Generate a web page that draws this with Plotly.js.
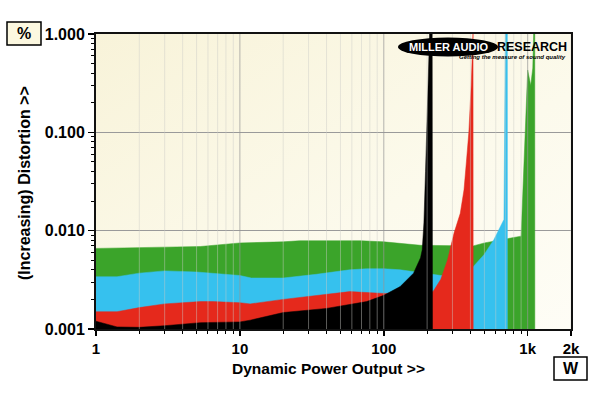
<!DOCTYPE html>
<html>
<head>
<meta charset="utf-8">
<script src="https://cdn.plot.ly/plotly-3.0.1.min.js"></script>
<style>html,body{margin:0;padding:0;background:#fff;}#chart{width:600px;height:393px;}</style>
</head>
<body>
<div id="chart"></div>
<script>
// ---- data (W, %) ----
const greenX = [1, 2, 3, 5.3, 6.5, 10, 20, 26, 69, 100, 180, 292, 418, 500, 640, 724, 900, 1000, 1050, 1085, 1100, 1120, 1121];
const greenY = [0.0066, 0.0068, 0.0068, 0.0069, 0.0071, 0.0075, 0.0077, 0.0079, 0.0079, 0.0077, 0.0071, 0.0070, 0.0070, 0.0075, 0.0080, 0.0082, 0.0088, 0.43, 0.30, 0.45, 1.0, 1.0, 0.001];

const blueX = [1, 1.4, 2, 3, 5, 6.5, 10, 12, 20, 34, 58, 76, 100, 130, 220, 250, 300, 360, 418, 497, 582, 650, 684, 700, 722, 723];
const blueY = [0.0034, 0.0034, 0.0037, 0.0039, 0.0038, 0.0037, 0.0035, 0.0033, 0.0033, 0.0036, 0.0040, 0.0041, 0.0041, 0.0040, 0.0036, 0.0035, 0.0035, 0.0038, 0.0043, 0.0057, 0.0081, 0.011, 0.013, 1.0, 1.0, 0.001];

const redX = [1, 1.4, 2, 3, 5.3, 6.5, 10, 11.8, 20, 34, 58, 100, 130, 160, 200, 220, 249, 277, 308, 340, 361, 375, 390, 405, 412, 417, 418];
const redY = [0.0015, 0.0015, 0.00165, 0.0018, 0.0019, 0.0019, 0.00185, 0.0018, 0.0020, 0.0022, 0.0024, 0.0023, 0.0023, 0.0023, 0.0023, 0.0024, 0.0032, 0.005, 0.0095, 0.015, 0.026, 0.05, 0.1, 0.3, 1.0, 1.0, 0.001];

const blackX = [1, 1.4, 2, 3, 5.3, 6.5, 10, 11.8, 20, 40, 76, 100, 130, 161, 180, 185, 190, 195, 200, 205, 208, 217, 218];
const blackY = [0.0012, 0.00105, 0.00104, 0.00108, 0.00116, 0.00116, 0.00118, 0.00123, 0.00147, 0.00162, 0.0019, 0.0022, 0.0027, 0.0037, 0.0053, 0.0064, 0.012, 0.04, 0.13, 0.45, 1.0, 1.0, 0.001];

const xTickVals = [1, 10, 100, 1000, 2000];
const xTickText = ['1', '10', '100', '1k', '2k'];
const yTickVals = [0.001, 0.01, 0.1, 1];
const yTickText = ['0.001', '0.010', '0.100', '1.000'];

const seriesColors = {green: '#3BA42A', blue: '#36C1EE', red: '#E5291C', black: '#000000'};

// ---- helpers ----
const W = 600, H = 393, ML = 96, MR = 29, MT = 34, MB = 64;
const PW = W - ML - MR, PH = H - MT - MB;
const px = x => (x - ML) / PW;
const py = y => (H - MB - y) / PH;

// minor & major vertical grid values (from axis decades)
const minorX = [], majorX = [];
[1, 10, 100, 1000].forEach(d => {
  for (let m = 2; m <= 9; m++) { const v = m * d; if (v <= 2000) minorX.push(v); }
  if (d > 1) majorX.push(d);
});
const minorY = [];
[0.001, 0.01, 0.1].forEach(d => { for (let m = 2; m <= 9; m++) minorY.push(m * d); });

function vlines(vals) {
  const xs = [], ys = [];
  vals.forEach(v => { xs.push(v, v, null); ys.push(0.001, 1, null); });
  return {xs, ys};
}

function area(x, y, c) {
  return {x: x, y: y, type: 'scatter', mode: 'lines', fill: 'tozeroy',
    fillcolor: c, line: {color: c, width: 0.5, shape: 'linear'}, hoverinfo: 'skip', showlegend: false};
}

const gMinor = vlines(minorX), gMajor = vlines(majorX);

const traces = [
  area(greenX, greenY, seriesColors.green),
  area(blueX, blueY, seriesColors.blue),
  area(redX, redY, seriesColors.red),
  area(blackX, blackY, seriesColors.black),
  {x: gMinor.xs, y: gMinor.ys, type: 'scatter', mode: 'lines', line: {color: 'rgba(205,205,200,0.45)', width: 1},
   hoverinfo: 'skip', showlegend: false, connectgaps: false},
  {x: gMajor.xs, y: gMajor.ys, type: 'scatter', mode: 'lines', line: {color: 'rgba(150,150,150,0.7)', width: 1},
   hoverinfo: 'skip', showlegend: false, connectgaps: false}
];

const FONT = 'Liberation Sans, Arial, Helvetica, sans-serif';

const bgSvg = "<svg xmlns='http://www.w3.org/2000/svg' width='100' height='100' preserveAspectRatio='none'>" +
  "<defs><linearGradient id='g' x1='0' y1='0' x2='1' y2='1'>" +
  "<stop offset='0' stop-color='#F8F3D9'/><stop offset='0.6' stop-color='#FCFAEC'/><stop offset='1' stop-color='#FEFDF6'/>" +
  "</linearGradient></defs><rect width='100' height='100' fill='url(#g)'/></svg>";

const layout = {
  width: W, height: H,
  margin: {l: ML, r: MR, t: MT, b: MB, pad: 0},
  paper_bgcolor: '#FFFFFF',
  plot_bgcolor: '#FBF8E8',
  font: {family: FONT, color: '#000', size: 15, weight: 'bold'},
  showlegend: false,
  images: [{source: 'data:image/svg+xml;charset=utf-8,' + encodeURIComponent(bgSvg),
    xref: 'paper', yref: 'paper', x: 0, y: 1, sizex: 1, sizey: 1, sizing: 'stretch',
    xanchor: 'left', yanchor: 'top', layer: 'below'}],
  xaxis: {
    type: 'log', range: [0, Math.log10(2000)],
    tickmode: 'array', tickvals: xTickVals, ticktext: xTickText,
    ticks: 'outside', ticklen: 5, tickwidth: 1.5, tickcolor: '#000',
    tickfont: {family: FONT, size: 15, weight: 'bold', color: '#000'},
    showgrid: false, zeroline: false,
    showline: true, linecolor: '#111', linewidth: 2, mirror: true,
    minor: {tickmode: 'array', tickvals: minorX, ticks: 'outside', ticklen: 3, tickwidth: 1, tickcolor: '#000', showgrid: false},
    fixedrange: true
  },
  yaxis: {
    type: 'log', range: [-3, 0],
    tickmode: 'array', tickvals: yTickVals, ticktext: yTickText,
    ticks: 'outside', ticklen: 6, tickwidth: 1.5, tickcolor: '#000',
    tickfont: {family: FONT, size: 16, weight: 'bold', color: '#000'},
    showgrid: true, gridcolor: '#9A9A9A', gridwidth: 1, zeroline: false,
    showline: true, linecolor: '#111', linewidth: 2, mirror: true,
    minor: {tickmode: 'array', tickvals: minorY, ticks: 'outside', ticklen: 3.5, tickwidth: 1, tickcolor: '#000', showgrid: false},
    fixedrange: true
  },
  shapes: [
    {type: 'rect', xref: 'paper', yref: 'paper', x0: px(7), x1: px(41), y0: py(45), y1: py(22),
     fillcolor: '#FCF8E0', line: {color: '#000', width: 1.5}},
    {type: 'rect', xref: 'paper', yref: 'paper', x0: px(554), x1: px(587), y0: py(380), y1: py(357),
     fillcolor: '#FFFFFF', line: {color: '#000', width: 1.5}},
    {type: 'circle', xref: 'paper', yref: 'paper', x0: px(398), x1: px(498), y0: py(56.5), y1: py(37.5),
     fillcolor: '#000', line: {color: '#000', width: 0}, layer: 'above'}
  ],
  annotations: [
    {text: '(Increasing) Distortion >>', textangle: -90, xref: 'paper', yref: 'paper',
     x: px(24.5), y: py(183.5), xanchor: 'center', yanchor: 'middle', showarrow: false,
     font: {family: FONT, size: 16, weight: 'bold', color: '#000'}},
    {text: 'Dynamic Power Output >>', xref: 'paper', yref: 'paper',
     x: px(328), y: py(368), xanchor: 'center', yanchor: 'middle', showarrow: false,
     font: {family: FONT, size: 15.5, weight: 'bold', color: '#000'}},
    {text: '%', xref: 'paper', yref: 'paper', x: px(24), y: py(33.5), xanchor: 'center', yanchor: 'middle',
     showarrow: false, font: {family: FONT, size: 16, weight: 'bold', color: '#000'}},
    {text: 'W', xref: 'paper', yref: 'paper', x: px(570.5), y: py(368.5), xanchor: 'center', yanchor: 'middle',
     showarrow: false, font: {family: FONT, size: 16, weight: 'bold', color: '#000'}},
    {text: 'MILLER AUDIO', xref: 'paper', yref: 'paper', x: px(448), y: py(47), xanchor: 'center', yanchor: 'middle',
     showarrow: false, font: {family: FONT, size: 11, weight: 'bold', color: '#FFFFFF'}},
    {text: 'RESEARCH', xref: 'paper', yref: 'paper', x: px(569), y: py(46.5), xanchor: 'right', yanchor: 'middle',
     showarrow: false, font: {family: FONT, size: 12.5, weight: 'bold', color: '#000'}},
    {text: '<i>Getting the measure of sound quality</i>', xref: 'paper', yref: 'paper', x: px(568), y: py(57), xanchor: 'right', yanchor: 'middle',
     showarrow: false, font: {family: FONT, size: 6, weight: 'bold', color: '#000'}}
  ]
};

Plotly.newPlot('chart', traces, layout, {staticPlot: true, displayModeBar: false});
</script>
</body>
</html>
